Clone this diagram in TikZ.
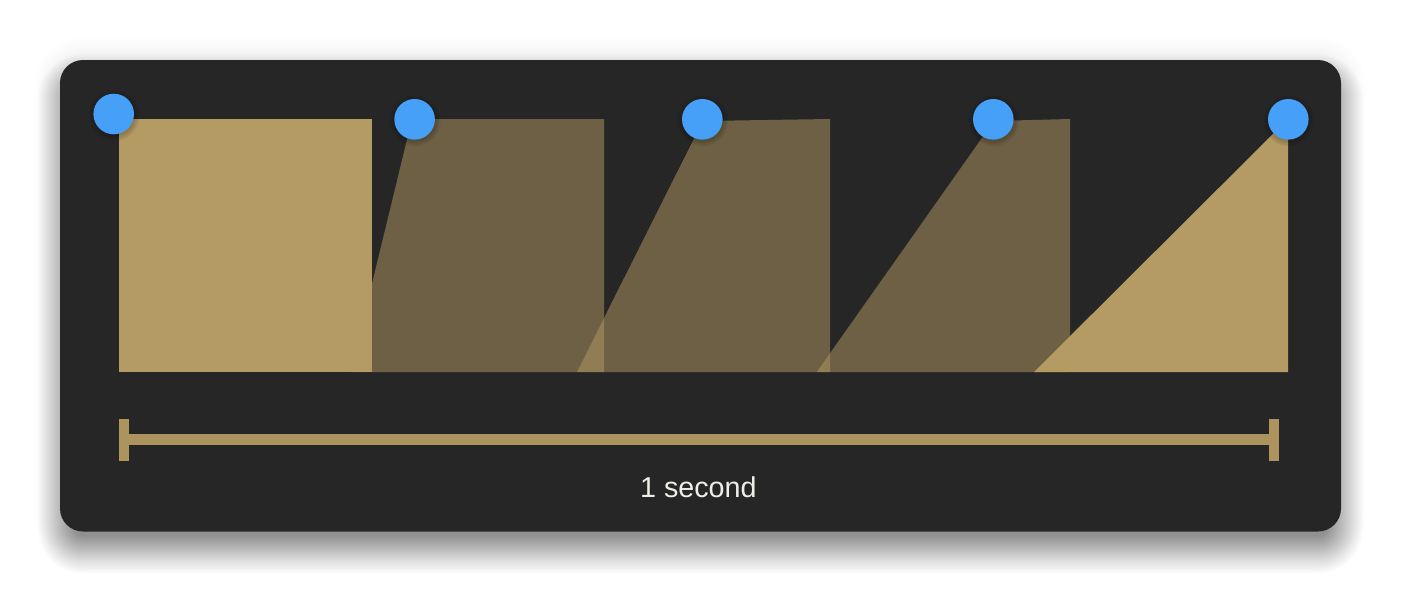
\documentclass[tikz,border=0pt]{standalone}
\usepackage{fontspec}
\setmainfont{Liberation Sans}
\definecolor{panel}{HTML}{262626}
\definecolor{gold}{HTML}{B49A63}
\definecolor{bargold}{HTML}{AD935E}
\definecolor{dotblue}{HTML}{47A0F8}
\definecolor{labeltext}{HTML}{EEEEE8}
\tikzset{
  keyshape/.style={fill=gold},
  tweenshape/.style={fill=gold, fill opacity=0.5},
  handle/.style={circle, fill=dotblue, minimum size=40.6pt, inner sep=0pt, draw=none},
  barpart/.style={fill=bargold},
}
\begin{document}
\begin{tikzpicture}[x=1pt,y=-1pt]
\useasboundingbox (0,0) rectangle (1402,592);
\fill[white] (0,0) rectangle (1402,592);
% panel shadow
\foreach \i in {1,...,48}{
  \pgfmathsetmacro{\ex}{-16+\i*0.8}
  \pgfmathsetmacro{\rc}{max(6,23+\ex)}
  \fill[black, opacity=0.0075, rounded corners=\rc pt] (60-\ex, 76-\ex) rectangle (1341+\ex, 551.5+\ex);
}
\foreach \i in {1,...,14}{
  \pgfmathsetmacro{\ex}{\i*1.8}
  \fill[black, opacity=0.004, rounded corners=23pt+\ex pt] (60-\ex, 62-\ex) rectangle (1341+\ex, 535+\ex);
}
% panel
\fill[panel, rounded corners=23pt] (60,60) rectangle (1341,531.5);
% frames
\fill[keyshape] (119,119) rectangle (372,372);
\fill[tweenshape] (412,119) -- (604,119) -- (604,372) -- (350.5,372) -- cycle;
\fill[tweenshape] (702.8,121) -- (830,119) -- (830,372) -- (577,372) -- cycle;
\fill[tweenshape] (993.9,121) -- (1070,119) -- (1070,372) -- (816.8,372) -- cycle;
\fill[keyshape] (1288,119) -- (1288,372) -- (1034,372) -- cycle;
% handle shadows
\foreach \cx/\cy in {113.7/114, 414.6/119.3, 702.3/119.3, 993.3/119.3, 1288.3/119.3}{
  \foreach \r in {21,22.5,24,25.5}{
    \fill[black, opacity=0.05] (\cx+0.5,\cy+1.5) circle (\r);
  }
}
% handles
\node[handle] (h1) at (113.7,114) {};
\node[handle] (h2) at (414.6,119.3) {};
\node[handle] (h3) at (702.3,119.3) {};
\node[handle] (h4) at (993.3,119.3) {};
\node[handle] (h5) at (1288.3,119.3) {};
% scale bar
\fill[barpart] (119,419) rectangle (129.3,461);
\fill[barpart] (1269,419) rectangle (1279.3,461);
\fill[barpart] (129,434.3) rectangle (1269.5,444.8);
\node[anchor=base, inner sep=0pt, text=labeltext, font=\fontsize{28.7}{34}\selectfont] (lbl) at (698.4,497.3) {1 second};
\end{tikzpicture}
\end{document}
